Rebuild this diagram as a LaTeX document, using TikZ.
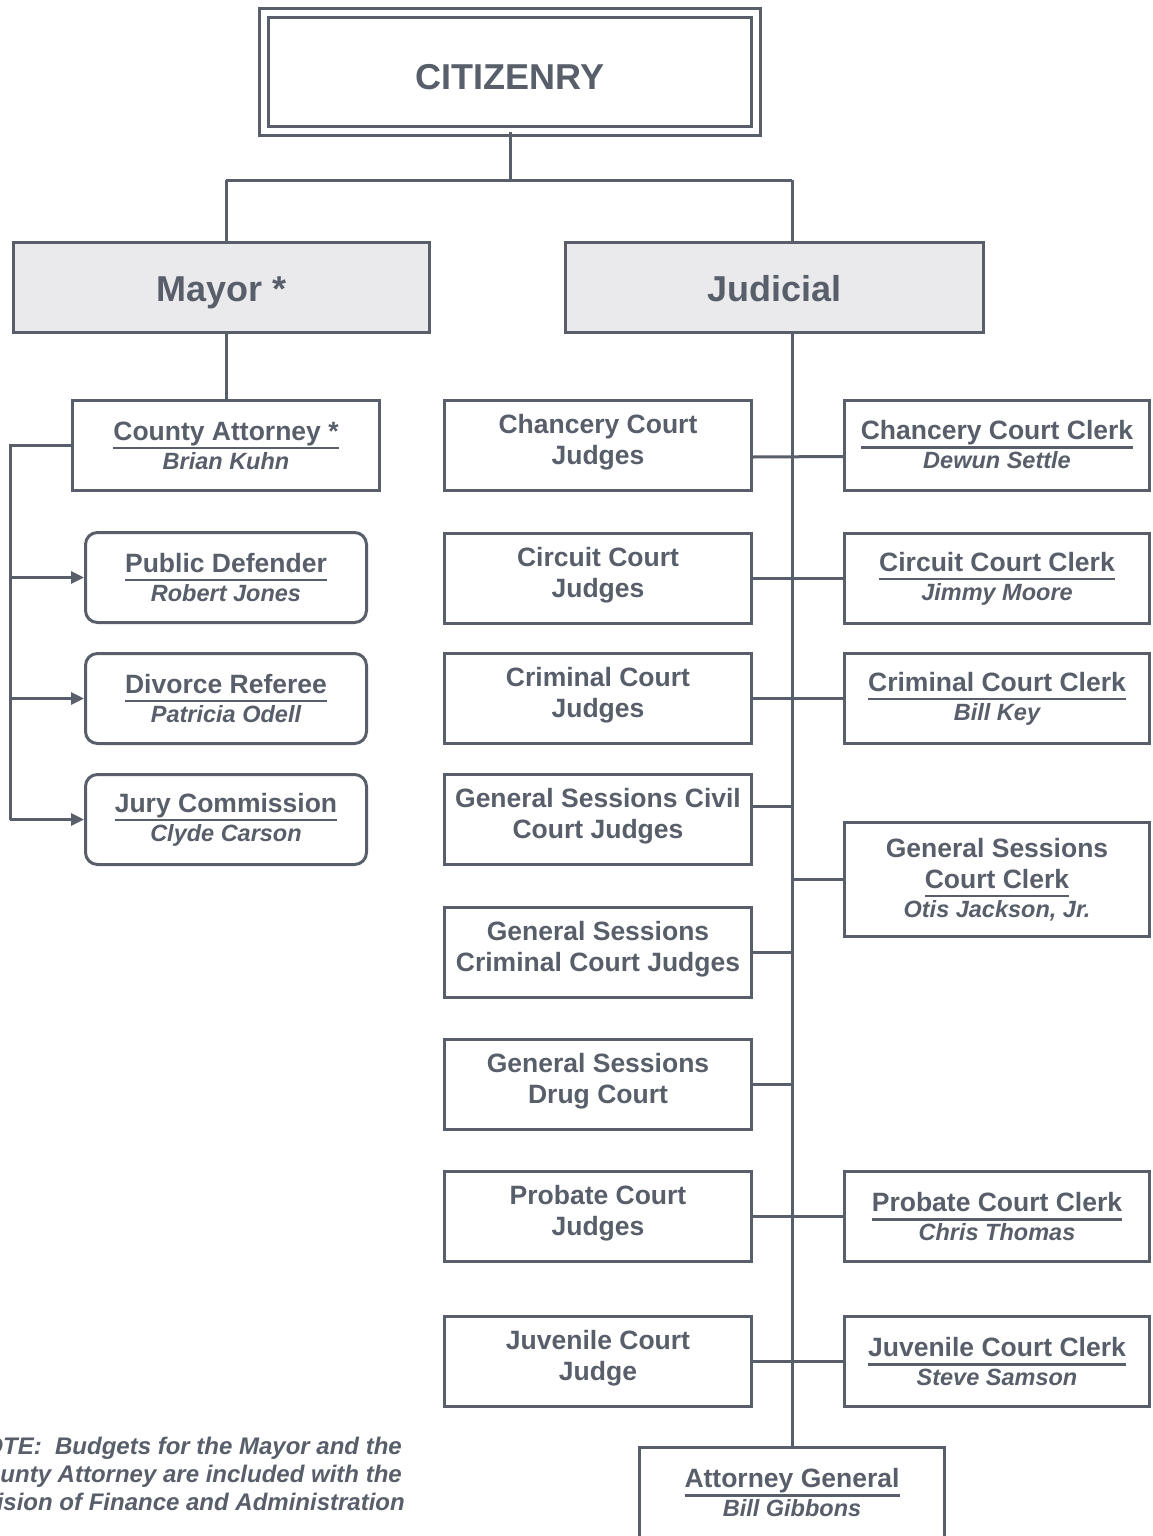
\documentclass[tikz,border=0pt]{standalone}
\usepackage{fontspec}
\setmainfont{Liberation Sans}
\usetikzlibrary{arrows.meta}

\definecolor{ink}{RGB}{88,94,106}
\definecolor{headfill}{RGB}{234,234,236}

% underlined title and italic name
\newcommand{\undl}[1]{\setbox0\hbox{#1}\rlap{\vrule height -6.5pt depth 9pt width \wd0}\box0}
\newcommand{\who}[1]{{\fontsize{23.5}{29}\selectfont\itshape #1}}

\begin{document}
\begin{tikzpicture}[x=1pt, y=-1pt,
    link/.style={draw=ink, line width=3pt},
    box/.style={draw=ink, line width=3pt, fill=white, text=ink, inner sep=0pt,
        minimum width=307pt, minimum height=90pt, align=center,
        font=\fontsize{26.5}{29}\selectfont\bfseries},
    judge/.style={box, text depth=11.5pt, font=\fontsize{26.5}{31}\selectfont\bfseries},
    clerk/.style={box, minimum width=305pt},
    office/.style={box, minimum width=281pt, rounded corners=12pt},
    head/.style={box, fill=headfill, minimum height=90pt, text height=28pt, text depth=0pt,
        font=\fontsize{36}{40}\selectfont\bfseries},
    note/.style={text=ink, inner sep=0pt, align=right, font=\fontsize{24}{28}\selectfont\bfseries\itshape}]

    % Page
    \useasboundingbox[fill=white] (0,0) rectangle (1153,1536);

    % Top
    \node[box, double=white, double distance=6pt, minimum width=492pt, minimum height=118pt,
        text height=35.8pt, text depth=0pt, font=\fontsize{36}{40}\selectfont\bfseries] (cit) at (510,72) {CITIZENRY};
    \node[head, minimum width=416pt] (mayor) at (221.5,287.5) {Mayor *};
    \node[head, minimum width=418pt] (judicial) at (774.5,287.5) {Judicial};

    % Mayor side
    \node[box] (ca) at (226,445.5) {\undl{County Attorney *}\\\who{Brian Kuhn}};
    \node[office] (pd) at (226,577.5) {\undl{Public Defender}\\\who{Robert Jones}};
    \node[office] (dr) at (226,698.5) {\undl{Divorce Referee}\\\who{Patricia Odell}};
    \node[office] (jury) at (226,819.5) {\undl{Jury Commission}\\\who{Clyde Carson}};

    % Judges
    \node[judge] (chj) at (598,445.5) {Chancery Court\\Judges};
    \node[judge] (cij) at (598,578.5) {Circuit Court\\Judges};
    \node[judge] (crj) at (598,698.5) {Criminal Court\\Judges};
    \node[judge] (gscv) at (598,819.5) {General Sessions Civil\\Court Judges};
    \node[judge] (gscr) at (598,952.5) {General Sessions\\Criminal Court Judges};
    \node[judge] (gsdr) at (598,1084) {General Sessions\\Drug Court};
    \node[judge] (prj) at (598,1216.5) {Probate Court\\Judges};
    \node[judge] (juj) at (598,1361.5) {Juvenile Court\\Judge};

    % Clerks
    \node[clerk] (chc) at (997,445) {\undl{Chancery Court Clerk}\\\who{Dewun Settle}};
    \node[clerk] (cic) at (997,578.5) {\undl{Circuit Court Clerk}\\\who{Jimmy Moore}};
    \node[clerk] (crc) at (997,698.5) {\undl{Criminal Court Clerk}\\\who{Bill Key}};
    \node[clerk, minimum height=114pt] (gsk) at (997,879.5) {General Sessions\\[2pt]\undl{Court Clerk}\\\who{Otis Jackson, Jr.}};
    \node[clerk] (prc) at (997,1216.5) {\undl{Probate Court Clerk}\\\who{Chris Thomas}};
    \node[clerk] (juc) at (997,1361.5) {\undl{Juvenile Court Clerk}\\\who{Steve Samson}};
    \node[clerk] (attgen) at (792,1492.5) {\undl{Attorney General}\\\who{Bill Gibbons}};

    % Note
    \node[note, anchor=north east] (budget) at (402,1437) {NOTE:\ \ Budgets for the Mayor and the\\County Attorney are included with the\hspace*{12pt}\\Division of Finance and Administration\hspace*{-3pt}};

    % Connectors
    \coordinate (bus) at (0,180);
    \coordinate (spine) at (792,0);
    \coordinate (rail) at (10,0);
    \draw[link] (cit.south) -- (cit.south |- bus);
    \draw[link] (bus -| ca) -- (bus -| spine);
    \draw[link] (bus -| ca) -- (ca |- mayor.north);
    \draw[link] (bus -| spine) -- (spine |- judicial.north);
    \draw[link] (ca |- mayor.south) -- (ca.north);
    \draw[link] (spine |- judicial.south) -- (spine |- attgen.north);

    \draw[link] (ca.west) -- (rail |- ca.west) -- (rail |- jury.west);
    \foreach \n in {pd,dr,jury}
        \draw[link, -{Triangle[length=13pt,width=12pt]}] (rail |- \n.west) -- (\n.west);

    \draw[link] ([yshift=-11.5pt]chj.east) -- ([yshift=-11.5pt]chc.west);
    \foreach \j/\c in {cij/cic, crj/crc, prj/prc, juj/juc}
        \draw[link] (\j.east) -- (\c.west);
    \draw[link] ([yshift=13.5pt]gscv.east) -- ([yshift=13.5pt]gscv.east -| spine);
    \foreach \n in {gscr,gsdr}
        \draw[link] (\n.east) -- (\n.east -| spine);
    \draw[link] (gsk.west) -- (gsk.west -| spine);
\end{tikzpicture}
\end{document}
